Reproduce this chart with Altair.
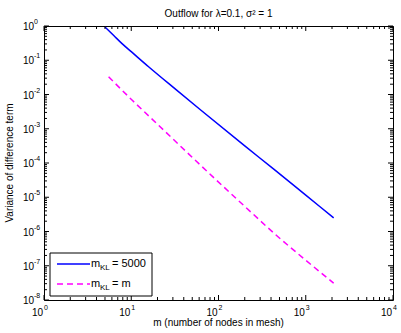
import altair as alt
import pandas as pd

# Series values (log-log)
blue_m = [5, 6.3, 7.9, 10, 15.8, 31.6, 63, 200, 430, 1000, 2090]
blue_v = [0.93, 0.525, 0.30, 0.178, 0.0646, 0.0148, 0.00347, 3.16e-4, 6.6e-5, 1.15e-5, 2.5e-6]
mag_m = [5.5, 10.2, 20, 62, 200, 470, 1000, 2090]
mag_v = [0.033, 0.0069, 1.35e-3, 8.7e-5, 5.4e-6, 7.4e-7, 1.45e-7, 3.1e-8]

# Axis ticks
x_major = [1, 10, 100, 1000, 10000]
x_exp = ["0", "1", "2", "3", "4"]
x_minor = [k * 10 ** e for e in range(0, 4) for k in range(2, 10)]
y_major = [1e-8, 1e-7, 1e-6, 1e-5, 1e-4, 1e-3, 1e-2, 1e-1, 1]
y_exp = ["-8", "-7", "-6", "-5", "-4", "-3", "-2", "-1", "0"]
y_minor = [k * 10.0 ** e for e in range(-8, 0) for k in range(2, 10)]

title_text = "Outflow for λ=0.1, σ² = 1"
xlabel = "m (number of nodes in mesh)"
ylabel = "Variance of difference term"
legend_eq = ["= 5000", "= m"]

W, H = 349, 274
FONT = "Liberation Sans"
FS = 10

xs = alt.Scale(type="log", domain=[1, 10000], nice=False)
ys = alt.Scale(type="log", domain=[1e-8, 1], nice=False)

df_blue = pd.DataFrame({"m": blue_m, "v": blue_v})
df_mag = pd.DataFrame({"m": mag_m, "v": mag_v})
df_xmaj = pd.DataFrame({"t": x_major, "e": x_exp})
df_xmin = pd.DataFrame({"t": x_minor})
df_ymaj = pd.DataFrame({"t": y_major, "e": y_exp})
df_ymin = pd.DataFrame({"t": y_minor})
one = pd.DataFrame({"a": [0]})

X = lambda f: alt.X(f, scale=xs, axis=None)
Y = lambda f: alt.Y(f, scale=ys, axis=None)

blue = alt.Chart(df_blue).mark_line(color="#0000ff", strokeWidth=1.5, interpolate="monotone").encode(
    x=X("m:Q"), y=Y("v:Q"))
mag = alt.Chart(df_mag).mark_line(color="#ff00ff", strokeWidth=1.5, strokeDash=[6, 4],
                                  interpolate="monotone").encode(
    x=X("m:Q"), y=Y("v:Q"))

tick_layers = []
for d, ln in ((df_xmaj, 5), (df_xmin, 3)):
    tick_layers.append(alt.Chart(d).mark_rule(color="black", strokeWidth=1).encode(
        x=X("t:Q"), y=alt.value(H), y2=alt.value(H - ln)))
    tick_layers.append(alt.Chart(d).mark_rule(color="black", strokeWidth=1).encode(
        x=X("t:Q"), y=alt.value(0), y2=alt.value(ln)))
for d, ln in ((df_ymaj, 5), (df_ymin, 3)):
    tick_layers.append(alt.Chart(d).mark_rule(color="black", strokeWidth=1).encode(
        y=Y("t:Q"), x=alt.value(0), x2=alt.value(ln)))
    tick_layers.append(alt.Chart(d).mark_rule(color="black", strokeWidth=1).encode(
        y=Y("t:Q"), x=alt.value(W), x2=alt.value(W - ln)))

# tick labels
xl_base = alt.Chart(df_xmaj).mark_text(font=FONT, fontSize=FS, align="right", baseline="alphabetic",
                                       dx=-1, color="black").encode(
    x=X("t:Q"), y=alt.value(H + 16), text=alt.value("10"))
xl_exp = alt.Chart(df_xmaj).mark_text(font=FONT, fontSize=7, align="left", baseline="alphabetic",
                                      dx=0, color="black").encode(
    x=X("t:Q"), y=alt.value(H + 10), text="e:N")
yl_base = alt.Chart(df_ymaj).mark_text(font=FONT, fontSize=FS, align="right", baseline="middle",
                                       dy=1, color="black").encode(
    y=Y("t:Q"), x=alt.value(-10), text=alt.value("10"))
yl_exp = alt.Chart(df_ymaj).mark_text(font=FONT, fontSize=7, align="left", baseline="middle",
                                      dy=-4, color="black").encode(
    y=Y("t:Q"), x=alt.value(-10), text="e:N")

title = alt.Chart(one).mark_text(font=FONT, fontSize=FS, align="center", baseline="alphabetic",
                                 color="black").encode(
    x=alt.value(W / 2), y=alt.value(-9), text=alt.value(title_text))
xt = alt.Chart(one).mark_text(font=FONT, fontSize=FS, align="center", baseline="alphabetic",
                              color="black").encode(
    x=alt.value(W / 2), y=alt.value(H + 26), text=alt.value(xlabel))
yt = alt.Chart(one).mark_text(font=FONT, fontSize=FS, align="center", baseline="middle", angle=270,
                              color="black").encode(
    x=alt.value(-34), y=alt.value(H / 2), text=alt.value(ylabel))

# legend
leg_box = alt.Chart(one).mark_rect(fill="white", stroke="black", strokeWidth=1).encode(
    x=alt.value(6), x2=alt.value(108), y=alt.value(227), y2=alt.value(270))
leg_l1 = alt.Chart(one).mark_rule(color="#0000ff", strokeWidth=1.5).encode(
    x=alt.value(13), x2=alt.value(46), y=alt.value(238))
leg_l2 = alt.Chart(one).mark_rule(color="#ff00ff", strokeWidth=1.5, strokeDash=[6, 4]).encode(
    x=alt.value(13), x2=alt.value(46), y=alt.value(258))
leg_texts = []
for yy, eq in ((238, legend_eq[0]), (258, legend_eq[1])):
    leg_texts.append(alt.Chart(one).mark_text(font=FONT, fontSize=11, align="left", baseline="middle",
                                              color="black").encode(
        x=alt.value(47), y=alt.value(yy), text=alt.value("m")))
    leg_texts.append(alt.Chart(one).mark_text(font=FONT, fontSize=8, align="left", baseline="middle",
                                              color="black").encode(
        x=alt.value(56), y=alt.value(yy + 4), text=alt.value("KL")))
    leg_texts.append(alt.Chart(one).mark_text(font=FONT, fontSize=11, align="left", baseline="middle",
                                              color="black").encode(
        x=alt.value(68), y=alt.value(yy), text=alt.value(eq)))

chart = alt.layer(
    blue, mag, *tick_layers, xl_base, xl_exp, yl_base, yl_exp, title, xt, yt,
    leg_box, leg_l1, leg_l2, *leg_texts
).properties(
    width=W, height=H,
    autosize=alt.AutoSizeParams(type="none"),
    padding={"left": 44, "top": 26, "right": 8, "bottom": 33},
    background="white",
).configure_view(stroke="black", strokeWidth=1)

chart.save("out.html", embed_options={"renderer": "svg", "actions": False})
